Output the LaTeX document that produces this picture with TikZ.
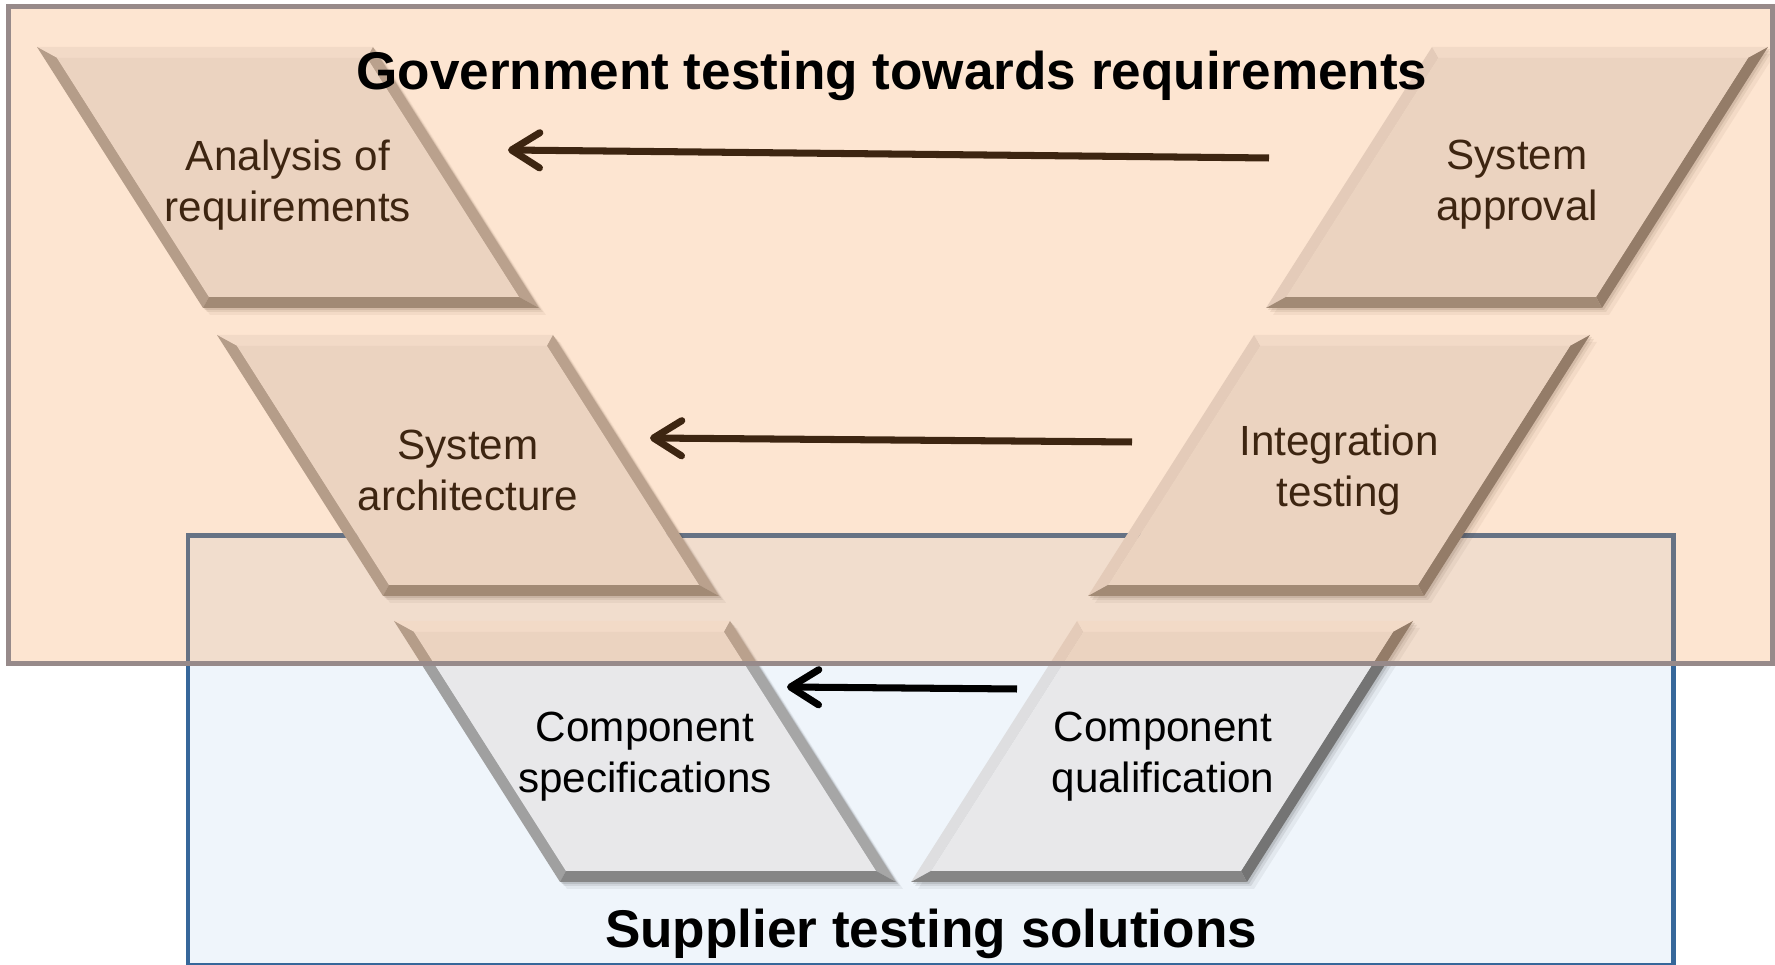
\documentclass[tikz,border=0pt]{standalone}
\usepackage{fontspec}
\setmainfont{Liberation Sans}
\usetikzlibrary{arrows.meta}
\definecolor{face}{RGB}{232,232,234}
\definecolor{topband}{RGB}{241,241,243}
\definecolor{lband}{RGB}{160,160,160}
\definecolor{rband}{RGB}{166,166,166}
\definecolor{bband}{RGB}{134,134,134}
\definecolor{hiband}{RGB}{222,222,224}
\definecolor{dkband}{RGB}{116,116,116}
\definecolor{govfill}{RGB}{247,150,70}
\definecolor{govline}{RGB}{151,138,138}
\definecolor{supfill}{RGB}{239,245,251}
\definecolor{supline}{RGB}{54,103,154}
% bevelled parallelogram: #1 x of top corner on slanted outer side, #2 top y,
% #3 direction (1 left column, -1 right column), #4 outer side colour, #5 inner side colour
\newcommand\vpara[5]{%
  \begin{scope}[shift={(#1,#2)},xscale=#3]
    \foreach \s/\o in {2/0.10,4/0.08,7/0.05}{
      \pgfmathsetmacro\sx{\s*(#3)}
      \fill[black,opacity=\o,shift={(\sx,\s)}] (0,0) -- (336,0) -- (502,261) -- (166,261) -- cycle;}
    \fill[topband] (0,0) -- (336,0) -- (330,11) -- (20,11) -- cycle;
    \fill[#4] (0,0) -- (20,11) -- (172,250) -- (166,261) -- cycle;
    \fill[#5] (336,0) -- (502,261) -- (482,250) -- (330,11) -- cycle;
    \fill[bband] (166,261) -- (172,250) -- (482,250) -- (502,261) -- cycle;
    \fill[face] (20,11) -- (330,11) -- (482,250) -- (172,250) -- cycle;
  \end{scope}}
\tikzset{
  stagetext/.style={align=center,font=\fontsize{12}{14.5}\selectfont,inner sep=0pt},
  headtext/.style={anchor=base,font=\fontsize{15.1}{18}\selectfont\bfseries,inner sep=0pt},
  flowarrow/.style={line width=2pt,-{Straight Barb[length=8pt,width=10pt,round]}}
}
\begin{document}
\begin{tikzpicture}[x=0.01cm,y=-0.01cm]
\useasboundingbox (0,0) rectangle (1775,965);
% supplier box
\draw[supline,fill=supfill,line width=1.42pt] (188,536) rectangle (1673,966);
% stages
\vpara{37}{47}{1}{lband}{rband}
\vpara{217}{335}{1}{lband}{rband}
\vpara{394}{621}{1}{lband}{rband}
\vpara{1768}{47}{-1}{dkband}{hiband}
\vpara{1590}{335}{-1}{dkband}{hiband}
\vpara{1413}{621}{-1}{dkband}{hiband}
\node[stagetext] (req) at (288,185) {Analysis of\\requirements};
\node[stagetext] (arch) at (468,470) {System\\architecture};
\node[stagetext] (spec) at (645,757) {Component\\specifications};
\node[stagetext] (appr) at (1517,185) {System\\approval};
\node[stagetext] (integ) at (1339,470) {Integration\\testing};
\node[stagetext] (qual) at (1163,757) {Component\\qualification};
% arrows
\coordinate (a1s) at (1269,158); \coordinate (a1e) at (508,150);
\coordinate (a2s) at (1132,442); \coordinate (a2e) at (650,438);
\coordinate (a3s) at (1017,689); \coordinate (a3e) at (787,687);
\draw[flowarrow] (a1s) -- (a1e);
\draw[flowarrow] (a2s) -- (a2e);
\draw[flowarrow] (a3s) -- (a3e);
% government box overlay
\fill[govfill,opacity=0.25] (8.5,7) rectangle (1772,664);
\draw[govline,line width=1.42pt] (8.5,7) rectangle (1772,664);
\node[headtext] (gov) at (892,90) {Government testing towards requirements};
\node[headtext] (sup) at (931,948) {Supplier testing solutions};
\end{tikzpicture}
\end{document}
